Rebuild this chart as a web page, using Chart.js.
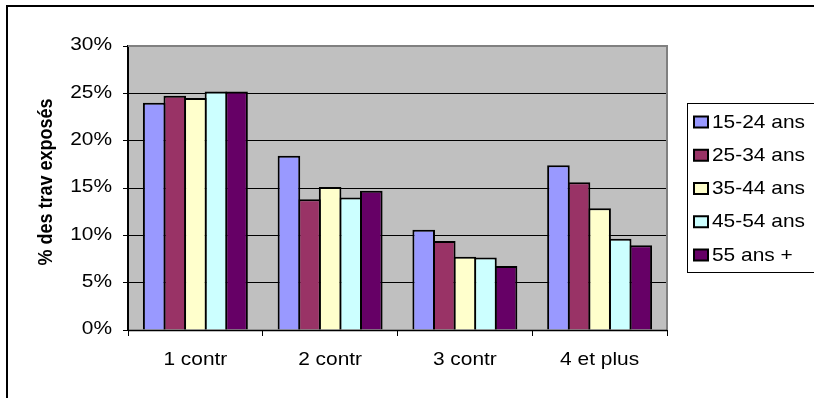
<!DOCTYPE html>
<html>
<head>
<meta charset="utf-8">
<script src="https://cdn.jsdelivr.net/npm/chart.js@4/dist/chart.umd.min.js"></script>
<style>
  html, body { margin: 0; padding: 0; background: #fff; }
  #wrap { position: relative; width: 814px; height: 398px; }
  canvas { display: block; }
</style>
</head>
<body>
<div id="wrap"><canvas id="c" width="814" height="398"></canvas></div>
<script>
// Categories and series (percent of exposed workers)
const categories = ['1 contr', '2 contr', '3 contr', '4 et plus'];
const seriesNames = ['15-24 ans', '25-34 ans', '35-44 ans', '45-54 ans', '55 ans +'];
const s15_24 = [24.0, 18.4, 10.6, 17.4];
const s25_34 = [24.75, 13.8, 9.4, 15.6];
const s35_44 = [24.5, 15.1, 7.75, 12.85];
const s45_54 = [25.2, 14.0, 7.65, 9.65];
const s55 = [25.2, 14.7, 6.75, 8.95];
const yTicks = [0, 5, 10, 15, 20, 25, 30];
const yTickLabels = ['0%', '5%', '10%', '15%', '20%', '25%', '30%'];
const axisTitle = '% des trav exposés';

const seriesValues = [s15_24, s25_34, s35_44, s45_54, s55];
const seriesColors = ['#9999FF', '#993366', '#FFFFCC', '#CCFFFF', '#660066'];

const FONT = '"Liberation Sans", Arial, sans-serif';
const WIDE = 1.1; // horizontal stretch of the label lettering

function wideText(ctx, text, x, y, align) {
  const w = ctx.measureText(text).width * WIDE;
  const left = align === 'right' ? x - w : align === 'center' ? x - w / 2 : x;
  ctx.save();
  ctx.translate(left, y);
  ctx.scale(WIDE, 1);
  ctx.textAlign = 'left';
  ctx.textBaseline = 'middle';
  ctx.fillText(text, 0, 0);
  ctx.restore();
}

const decorations = {
  id: 'decorations',
  beforeDraw(chart) {
    const { ctx, chartArea: a } = chart;
    ctx.save();
    ctx.fillStyle = '#fff';
    ctx.fillRect(0, 0, chart.width, chart.height);
    ctx.fillStyle = '#C0C0C0';
    ctx.fillRect(a.left, a.top, a.right - a.left, a.bottom - a.top);
    ctx.restore();
  },
  afterDraw(chart) {
    const { ctx, chartArea: a } = chart;
    const xs = chart.scales.x, ys = chart.scales.y;
    ctx.save();

    // plot-area frame (top and right)
    ctx.strokeStyle = '#808080';
    ctx.lineWidth = 2;
    ctx.beginPath();
    ctx.moveTo(a.left, a.top);
    ctx.lineTo(a.right, a.top);
    ctx.lineTo(a.right, a.bottom);
    ctx.stroke();

    // category axis line
    ctx.strokeStyle = '#000';
    ctx.lineWidth = 1.5;
    ctx.beginPath();
    ctx.moveTo(a.left, a.bottom + 0.5);
    ctx.lineTo(a.right, a.bottom + 0.5);
    ctx.stroke();

    // outer chart frame
    ctx.lineWidth = 2;
    ctx.beginPath();
    ctx.moveTo(7, chart.height);
    ctx.lineTo(7, 6);
    ctx.lineTo(chart.width, 6);
    ctx.stroke();

    ctx.fillStyle = '#000';
    ctx.font = '19px ' + FONT;

    // value axis labels
    yTicks.forEach((v, i) => {
      wideText(ctx, yTickLabels[i], 112, ys.getPixelForValue(v) - 1, 'right');
    });

    // category labels
    categories.forEach((c, i) => {
      wideText(ctx, c, xs.getPixelForValue(i), 360, 'center');
    });

    // axis title (rotated, lettering widened across the line)
    ctx.save();
    ctx.translate(47, 182);
    ctx.rotate(-Math.PI / 2);
    ctx.scale(1, WIDE);
    ctx.font = 'bold 18px ' + FONT;
    ctx.textAlign = 'center';
    ctx.textBaseline = 'middle';
    ctx.fillText(axisTitle, 0, 0);
    ctx.restore();

    // legend
    ctx.strokeStyle = '#000';
    ctx.lineWidth = 1;
    ctx.strokeRect(687.5, 103.5, 140, 169);
    chart.data.datasets.forEach((ds, i) => {
      const cy = 122 + i * 33.25;
      ctx.fillStyle = ds.backgroundColor;
      ctx.fillRect(694, cy - 5.5, 14, 11);
      ctx.lineWidth = 2;
      ctx.strokeRect(694, cy - 5.5, 14, 11);
      ctx.fillStyle = '#000';
      ctx.font = '19px ' + FONT;
      wideText(ctx, ds.label, 712, cy + 0.5, 'left');
    });

    ctx.restore();
  }
};

new Chart(document.getElementById('c'), {
  type: 'bar',
  data: {
    labels: categories,
    datasets: seriesNames.map((name, i) => ({
      label: name,
      data: seriesValues[i],
      backgroundColor: seriesColors[i],
      borderColor: '#000',
      borderWidth: 2,
      barPercentage: 1.097,
      categoryPercentage: 0.764
    }))
  },
  options: {
    responsive: false,
    animation: false,
    devicePixelRatio: 1,
    layout: { padding: { left: 0, top: 46, right: 147, bottom: 0 } },
    plugins: { legend: { display: false }, tooltip: { enabled: false } },
    scales: {
      x: {
        ticks: { display: false },
        grid: { display: true, drawOnChartArea: false, drawTicks: true, tickLength: 6, color: '#000', lineWidth: 1 },
        border: { display: false },
        afterFit(s) { s.height = 68; }
      },
      y: {
        min: 0,
        max: 30,
        ticks: { display: false, stepSize: 5 },
        grid: { color: '#000', lineWidth: 1, drawTicks: true, tickLength: 5 },
        border: { display: true, color: '#000', width: 2 },
        afterFit(s) { s.width = 128; }
      }
    }
  },
  plugins: [decorations]
});
</script>
</body>
</html>
